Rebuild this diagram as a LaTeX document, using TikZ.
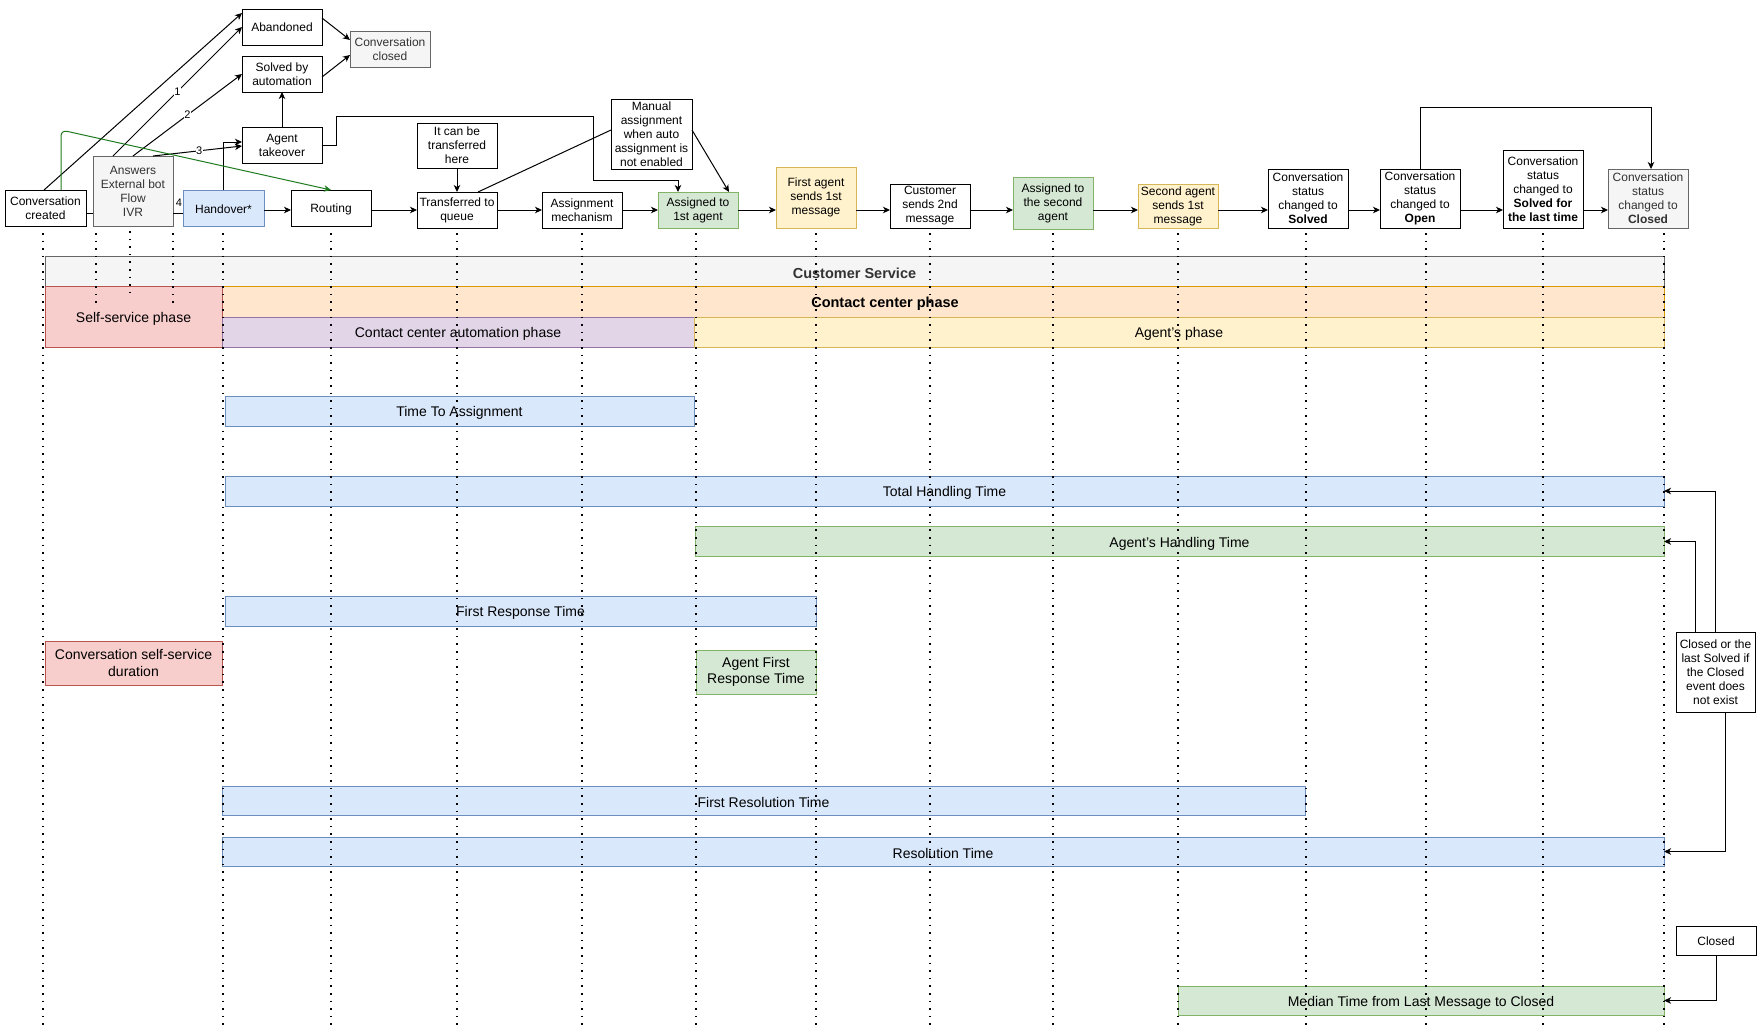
\documentclass[tikz,border=0pt]{standalone}
\usepackage{fontspec}
\setmainfont{Liberation Sans}
\usetikzlibrary{arrows.meta}
\definecolor{bluef}{HTML}{DAE8FC}
\definecolor{blues}{HTML}{6C8EBF}
\definecolor{greenf}{HTML}{D5E8D4}
\definecolor{greens}{HTML}{82B366}
\definecolor{yelf}{HTML}{FFF2CC}
\definecolor{yels}{HTML}{D6B656}
\definecolor{oraf}{HTML}{FFE6CC}
\definecolor{oras}{HTML}{D79B00}
\definecolor{redf}{HTML}{F8CECC}
\definecolor{reds}{HTML}{B85450}
\definecolor{purf}{HTML}{E1D5E7}
\definecolor{purs}{HTML}{9673A6}
\definecolor{grayf}{HTML}{F5F5F5}
\definecolor{grays}{HTML}{666666}
\definecolor{grayt}{HTML}{333333}
\definecolor{grnline}{HTML}{1E7A1E}
\newcommand\fsa{\fontsize{12}{14}\selectfont}
\newcommand\fsb{\fontsize{14}{16.5}\selectfont}
\newcommand\fsbb{\fontsize{14.5}{16.5}\selectfont\bfseries}
\newcommand\lowr[2][2pt]{\raisebox{-#1}[\height][\depth]{#2}}
\begin{document}
\begin{tikzpicture}[x=1pt,y=-1pt,line width=1pt,
  box/.style={draw,line width=1pt,inner sep=0pt,outer sep=0pt,align=center,font=\fsa,minimum width=80pt},
  bar/.style={draw,line width=1pt,inner sep=0pt,outer sep=0pt,align=center,font=\fsb},
  lbl/.style={inner sep=0pt,align=center},
  sblue/.style={fill=bluef,draw=blues},
  sgreen/.style={fill=greenf,draw=greens},
  syel/.style={fill=yelf,draw=yels},
  sora/.style={fill=oraf,draw=oras},
  sred/.style={fill=redf,draw=reds},
  spur/.style={fill=purf,draw=purs},
  sgray/.style={fill=grayf,draw=grays,text=grayt},
  arr/.style={-{Stealth[length=7pt,width=6.5pt,inset=2pt]},line width=1pt},
  grarr/.style={-{Stealth[length=7pt,width=6.5pt,inset=2pt]},line width=1pt,draw=grnline,rounded corners=6pt},
  dotl/.style={line width=1.6pt,dash pattern=on 1.6pt off 6pt},
  num/.style={fill=white,inner sep=0.6pt,font=\fontsize{11}{12}\selectfont}]
\useasboundingbox (0,0) rectangle (1761,1034);

% ---------- top row ----------
\node[box,minimum width=81pt,minimum height=36pt] (cc) at (45.5,208) {Conversation\\created};
\node[box,sgray,minimum height=70pt] (ans) at (133,191) {Answers\\External bot\\Flow\\IVR};
\node[box,sblue,minimum width=81pt,minimum height=36pt] (hand) at (223.5,208) {\lowr[1pt]{Handover*}};
\node[box,minimum height=36pt] (rout) at (331,208) {\lowr[1pt]{Routing}};
\node[box,minimum height=36pt] (abn) at (282,27) {Abandoned};
\node[box,minimum height=36pt] (sba) at (282,74) {Solved by\\automation};
\node[box,sgray,minimum height=36pt] (ccl) at (390,49) {Conversation\\closed};
\node[box,minimum height=36pt] (at) at (282,145) {Agent\\takeover};
\node[box,minimum height=45pt] (itc) at (457,145.5) {It can be\\transferred\\here};
\node[box,minimum height=36pt] (tq) at (457,210) {Transferred to\\queue};
\node[box,minimum height=36pt] (am) at (582,210) {Assignment\\mechanism};
\node[box,sgreen,minimum height=36pt] (a1) at (698,210) {Assigned to\\1st agent};
\node[box,minimum width=81pt,minimum height=70pt] (man) at (651.5,134) {Manual\\assignment\\when auto\\assignment is\\not enabled};
\node[box,syel,minimum height=61pt] (fa) at (816,197.5) {First agent\\sends 1st\\message};
\node[box,minimum height=44pt] (cs2) at (930,206) {Customer\\sends 2nd\\message};
\node[box,sgreen,minimum height=52pt] (a2) at (1053,203) {Assigned to\\the second\\agent};
\node[box,syel,minimum height=44pt] (sa) at (1178,206) {Second agent\\sends 1st\\message};
\node[box,minimum height=59pt] (sol) at (1308,198.5) {Conversation\\status\\changed to\\\textbf{Solved}};
\node[box,minimum height=59pt] (opn) at (1420,198.5) {Conversation\\status\\changed to\\\textbf{Open}};
\node[box,minimum height=78pt] (sll) at (1543,189) {Conversation\\status\\changed to\\\textbf{Solved for}\\\textbf{the last time}};
\node[box,sgray,minimum height=59pt] (cld) at (1648,198.5) {Conversation\\status\\changed to\\\textbf{Closed}};

% ---------- top connectors ----------
\coordinate (ry) at (0,210);
\coordinate (ly) at (0,213);
\draw (cc.east |- ly) -- (ans.west |- ly);
\draw (ans.east |- ly) -- (hand.west |- ly);
\node[num] (n4) at (179,203) {4};
\draw[arr] (hand.east |- ry) -- (rout.west |- ry);
\draw[arr] (rout.east |- ry) -- (tq.west |- ry);
\draw[arr] (tq.east |- ry) -- (am.west |- ry);
\draw[arr] (am.east |- ry) -- (a1.west |- ry);
\draw[arr] (a1.east |- ry) -- (fa.west |- ry);
\draw[arr] (fa.east |- ry) -- (cs2.west |- ry);
\draw[arr] (cs2.east |- ry) -- (a2.west |- ry);
\draw[arr] (a2.east |- ry) -- (sa.west |- ry);
\draw[arr] (sa.east |- ry) -- (sol.west |- ry);
\draw[arr] (sol.east |- ry) -- (opn.west |- ry);
\draw[arr] (opn.east |- ry) -- (sll.west |- ry);
\draw[arr] (sll.east |- ry) -- (cld.west |- ry);

\draw[arr] ([xshift=-1.5pt]cc.north) -- ([yshift=14pt]abn.west);
\draw[arr] ([xshift=-20pt]ans.north) -- (abn.west) node[num,pos=0.5] (n1) {1};
\draw[arr] (ans.north) -- (sba.west) node[num,pos=0.5] (n2) {2};
\draw[arr] ([xshift=20pt]ans.north) -- ([yshift=-1pt]at.west) node[num,pos=0.52] (n3) {3};
\draw[arr] (hand.north) |- ([yshift=3pt]at.west);
\draw[arr] (at.north) -- (sba.south);
\draw[arr] ([yshift=9pt]abn.east) -- ([yshift=9pt]ccl.west);
\draw[arr] ([yshift=-3pt]sba.east) -- ([yshift=-6pt]ccl.west);
\draw[arr] (at.east) -| (336,116) -| (593,180) -| ([xshift=-20pt]a1.north);
\draw[arr] (itc.south) -- (tq.north);
\draw ([xshift=21pt]tq.north) -- ([yshift=4pt]man.west);
\draw[arr] ([yshift=4pt]man.east) -- ([xshift=31pt]a1.north);
\draw[arr] (opn.north) -- ++(0,-62) -| ([xshift=3pt]cld.north);
\draw[grarr] ([xshift=15.5pt]cc.north) -- (61,130) -- (rout.north);

% ---------- phases ----------
\node[bar,sgray,minimum width=1619pt,minimum height=30pt,font=\fsbb] (cs) at (854.5,271) {\lowr{Customer Service}};
\node[bar,sora,minimum width=1442pt,minimum height=31pt] (ccp) at (943,301.5) {};
\node[lbl,font=\fsbb] (ccpt) at (885,301.5) {\lowr{Contact center phase}};
\node[bar,sred,minimum width=177pt,minimum height=61pt] (ssp) at (133.5,316.5) {\lowr{Self-service phase}};
\node[bar,spur,minimum width=472pt,minimum height=30pt] (cca) at (458,332) {\lowr{Contact center automation phase}};
\node[bar,syel,minimum width=970pt,minimum height=30pt] (ap) at (1179,332) {\lowr{Agent's phase}};

% ---------- metrics ----------
\node[bar,sblue,minimum width=469pt,minimum height=30pt] (tta) at (459.5,411) {\lowr{Time To Assignment}};
\node[bar,sblue,minimum width=1439pt,minimum height=30pt] (tht) at (944.5,491) {\lowr{Total Handling Time}};
\node[bar,sgreen,minimum width=969pt,minimum height=30pt] (aht) at (1179.5,541.5) {\lowr{Agent's Handling Time}};
\node[bar,sblue,minimum width=591pt,minimum height=30pt] (frt) at (520.5,611) {\lowr{First Response Time}};
\node[bar,sred,minimum width=177pt,minimum height=44pt] (csd) at (133.5,663) {Conversation self-service\\duration};
\node[bar,sgreen,minimum width=120pt,minimum height=44pt] (afrt) at (756,672) {Agent First\\Response Time};
\node[bar,sblue,minimum width=1083pt,minimum height=29pt] (fres) at (763.5,800.5) {\lowr{First Resolution Time}};
\node[bar,sblue,minimum width=1442pt,minimum height=29pt] (rt) at (943,851.5) {\lowr{Resolution Time}};
\node[bar,sgreen,minimum width=486pt,minimum height=29pt] (med) at (1421,1000.5) {\lowr{Median Time from Last Message to Closed}};

\node[box,minimum width=79pt,minimum height=80pt] (cor) at (1715.5,672) {Closed or the\\last Solved if\\the Closed\\event does\\not exist};
\node[box,minimum width=80pt,minimum height=29pt] (cl2) at (1716,940.5) {\lowr[1pt]{Closed}};

% ---------- lifelines ----------
\foreach \lx in {43,223,331,457,582,696,816,930,1053,1178,1306,1426,1543,1664}
  \draw[dotl] (\lx,233) -- (\lx,1028);
\draw[dotl] (96,233) -- (96,305);
\draw[dotl] (130,231) -- (130,297);
\draw[dotl] (173,233) -- (173,305);

% ---------- right connectors ----------
\draw[arr] (cor.north) |- (tht.east);
\draw[arr] ([xshift=-20pt]cor.north) |- (aht.east);
\draw[arr] ([xshift=10pt]cor.south) |- (rt.east);
\draw[arr] (cl2.south) |- (med.east);
\end{tikzpicture}
\end{document}
